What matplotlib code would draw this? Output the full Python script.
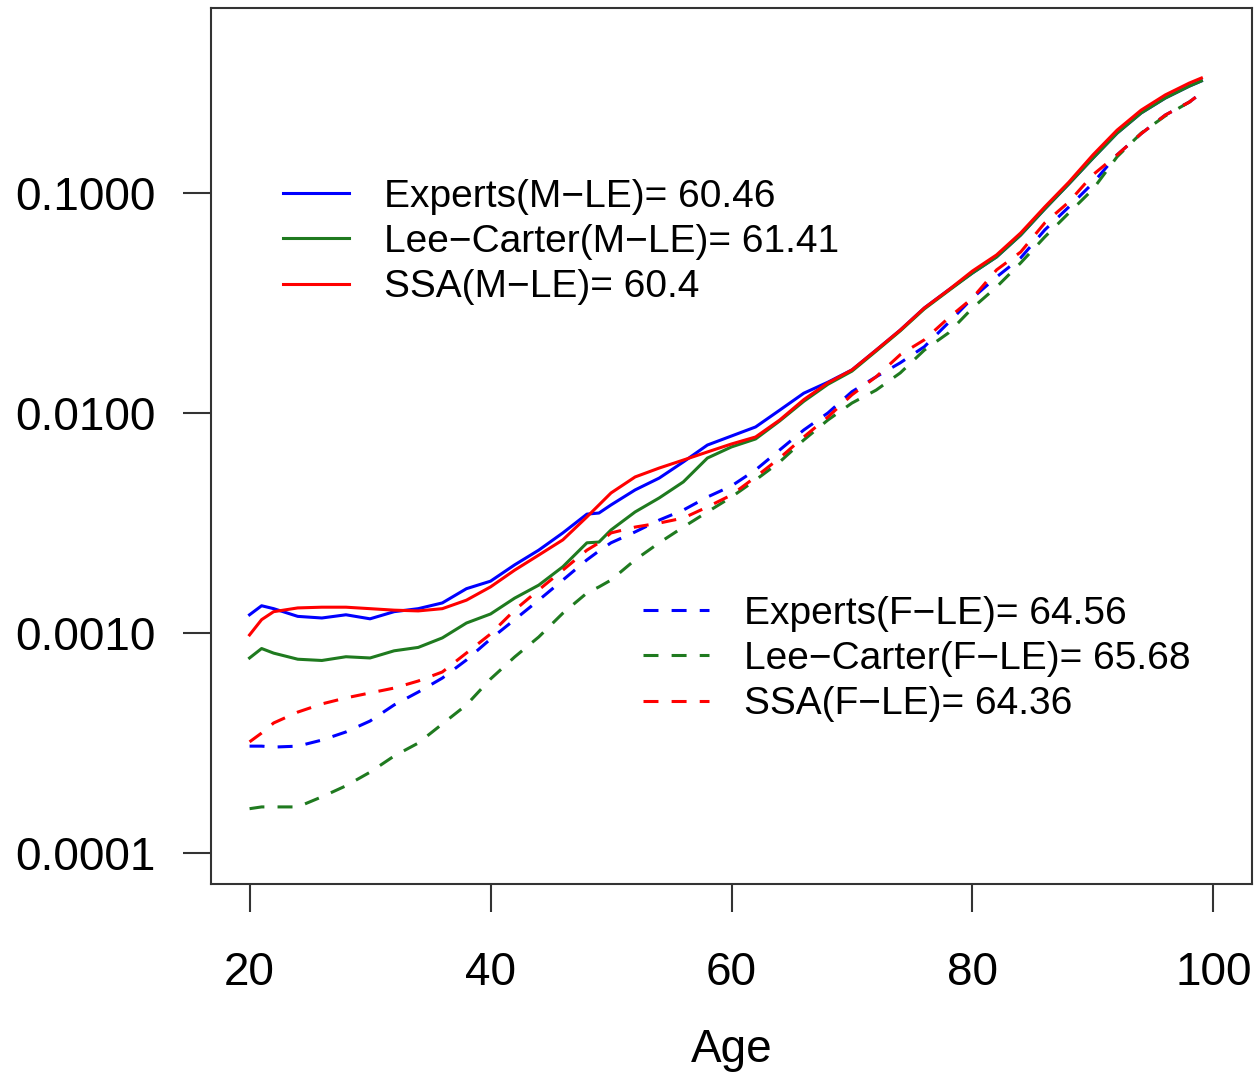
import numpy as np
import matplotlib
matplotlib.use("Agg")
import matplotlib.pyplot as plt
from matplotlib.ticker import FixedLocator, FuncFormatter

plt.rcParams['font.family'] = ['Liberation Sans', 'DejaVu Sans']

# ages at which the forecast death rates are drawn
ages = [20, 21, 22, 24, 26, 28, 30, 32, 34, 36, 38, 40, 42, 44, 46, 48, 49,
        50, 52, 54, 56, 58, 60, 62, 64, 66, 68, 70, 72, 74, 76, 78, 80, 82,
        84, 86, 88, 90, 92, 94, 96, 98, 99]

# males
experts_m = [0.00121, 0.00133, 0.00129, 0.00119, 0.00117, 0.00121, 0.00116,
             0.00125, 0.00129, 0.00137, 0.00159, 0.00172, 0.00204, 0.00238,
             0.00285, 0.00347, 0.00351, 0.00382, 0.00447, 0.00506, 0.00599,
             0.00715, 0.00786, 0.00864, 0.0103, 0.0123, 0.0138, 0.0157,
             0.0193, 0.0238, 0.0300, 0.0362, 0.0433, 0.0512, 0.0644, 0.0846,
             0.110, 0.144, 0.187, 0.231, 0.270, 0.306, 0.323]
leecarter_m = [0.00077, 0.00085, 0.00081, 0.00076, 0.00075, 0.00078, 0.00077,
               0.00083, 0.00086, 0.00095, 0.00111, 0.00122, 0.00144, 0.00165,
               0.00200, 0.00257, 0.00259, 0.00294, 0.00355, 0.00411, 0.00486,
               0.00624, 0.00701, 0.00762, 0.00920, 0.0113, 0.0135, 0.0155,
               0.0191, 0.0236, 0.0297, 0.0359, 0.0433, 0.0512, 0.0644, 0.0846,
               0.110, 0.144, 0.187, 0.231, 0.270, 0.306, 0.323]
ssa_m = [0.00098, 0.00115, 0.00125, 0.00130, 0.00131, 0.00131, 0.00129,
         0.00127, 0.00126, 0.00129, 0.00141, 0.00162, 0.00193, 0.00226,
         0.00265, 0.00337, 0.00382, 0.00433, 0.00512, 0.00562, 0.00611,
         0.00665, 0.00723, 0.00778, 0.00929, 0.0115, 0.0137, 0.0157, 0.0193,
         0.0238, 0.0300, 0.0362, 0.0442, 0.0523, 0.0658, 0.0864, 0.112,
         0.149, 0.193, 0.238, 0.279, 0.316, 0.333]

# females
experts_f = [0.000306, 0.000306, 0.000303, 0.000306, 0.000326, 0.000355,
             0.000398, 0.000471, 0.000539, 0.000624, 0.000754, 0.000939,
             0.00115, 0.00141, 0.00174, 0.00215, 0.00236, 0.00257, 0.00288,
             0.00326, 0.00362, 0.00415, 0.00466, 0.00551, 0.00679, 0.00837,
             0.0100, 0.0125, 0.0146, 0.0169, 0.0200, 0.0257, 0.0333, 0.0415,
             0.0507, 0.0679, 0.0864, 0.111, 0.149, 0.186, 0.226, 0.259, 0.285]
leecarter_f = [0.000159, 0.000162, 0.000162, 0.000162, 0.000180, 0.000202,
               0.000233, 0.000276, 0.000316, 0.000386, 0.000471, 0.000618,
               0.000778, 0.000959, 0.00123, 0.00152, 0.00162, 0.00174,
               0.00215, 0.00257, 0.00303, 0.00355, 0.00415, 0.00496, 0.00599,
               0.00754, 0.00929, 0.0111, 0.0127, 0.0152, 0.0193, 0.0231,
               0.0300, 0.0374, 0.0481, 0.0631, 0.0811, 0.104, 0.146, 0.187,
               0.224, 0.259, 0.285]
ssa_f = [0.000320, 0.000351, 0.000390, 0.000437, 0.000476, 0.000507,
         0.000534, 0.000562, 0.000605, 0.000665, 0.000811, 0.000990, 0.00127,
         0.00157, 0.00193, 0.00238, 0.00257, 0.00285, 0.00303, 0.00316,
         0.00333, 0.00374, 0.00424, 0.00512, 0.00624, 0.00778, 0.00959,
         0.0121, 0.0146, 0.0184, 0.0215, 0.0270, 0.0333, 0.0447, 0.0539,
         0.0731, 0.0910, 0.121, 0.149, 0.186, 0.226, 0.259, 0.285]

labels_m = ["Experts(M\u2212LE)= 60.46", "Lee\u2212Carter(M\u2212LE)= 61.41",
            "SSA(M\u2212LE)= 60.4"]
labels_f = ["Experts(F\u2212LE)= 64.56", "Lee\u2212Carter(F\u2212LE)= 65.68",
            "SSA(F\u2212LE)= 64.36"]
xticks = [20, 40, 60, 80, 100]
yticks = [0.0001, 0.001, 0.01, 0.1]

colors = ["#0000ff", "#1f7a1f", "#ff0000"]
dash = (0, (4.9, 4.3))
lw = 2.2

fig = plt.figure(figsize=(12.55, 10.75), dpi=100)
ax = fig.add_axes([211 / 1255, 191 / 1075, 1041 / 1255, 876 / 1075])

male_lines = []
for vals, c in zip([experts_m, leecarter_m, ssa_m], colors):
    ln, = ax.plot(ages, vals, color=c, lw=lw)
    male_lines.append(ln)
female_lines = []
for vals, c in zip([experts_f, leecarter_f, ssa_f], colors):
    ln, = ax.plot(ages, vals, color=c, lw=lw, linestyle=dash)
    female_lines.append(ln)

ax.set_yscale("log")
ax.set_xlim(16.8, 103.2)
ax.set_ylim(7.23e-5, 0.693)

ax.xaxis.set_major_locator(FixedLocator(xticks))
ax.yaxis.set_major_locator(FixedLocator(yticks))
ax.yaxis.set_minor_locator(FixedLocator([]))
ax.yaxis.set_major_formatter(FuncFormatter(lambda v, p: "%.4f" % v))
ax.tick_params(direction="out", length=20, width=1.5, color="#333333",
               labelsize=33, top=False, right=False)
ax.tick_params(axis="y", pad=20)
ax.tick_params(axis="x", pad=28)
for sp in ax.spines.values():
    sp.set_linewidth(1.5)
    sp.set_color("#333333")

ax.set_xlabel("Age", fontsize=33, labelpad=24)

leg_kw = dict(frameon=False, fontsize=28, handlelength=1.7,
              handletextpad=0.9, labelspacing=0.24, borderpad=0,
              borderaxespad=0, loc="center left")
leg1 = ax.legend(male_lines, labels_m, bbox_to_anchor=(0.0692, 0.7329), **leg_kw)
ax.add_artist(leg1)
ax.legend(female_lines, labels_f, bbox_to_anchor=(0.415, 0.2569), **leg_kw)

fig.savefig("out.png", dpi=100)
